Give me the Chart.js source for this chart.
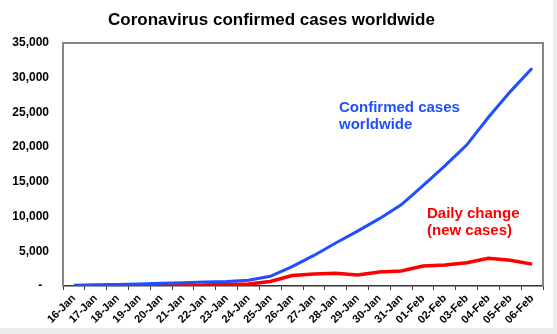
<!DOCTYPE html>
<html>
<head>
<meta charset="utf-8">
<script src="https://cdn.jsdelivr.net/npm/chart.js@4/dist/chart.umd.min.js"></script>
<style>
  html, body { margin: 0; padding: 0; background: #ffffff; }
  #wrap { width: 557px; height: 334px; position: relative; }
  canvas { display: block; }
</style>
</head>
<body>
<div id="wrap"><canvas id="c" width="557" height="334"></canvas></div>
<script>
// Daily dates on the category axis
const dates = [
  '16-Jan', '17-Jan', '18-Jan', '19-Jan', '20-Jan', '21-Jan', '22-Jan', '23-Jan',
  '24-Jan', '25-Jan', '26-Jan', '27-Jan', '28-Jan', '29-Jan', '30-Jan', '31-Jan',
  '01-Feb', '02-Feb', '03-Feb', '04-Feb', '05-Feb', '06-Feb'
];

// Cumulative confirmed cases worldwide
const confirmedCases = [
  100, 180, 230, 290, 380, 470, 560, 650,
  830, 1400, 2800, 4400, 6200, 7900, 9700, 11700,
  14450, 17300, 20300, 24300, 28000, 31350
];

// Day-over-day change (new cases)
const dailyChange = [
  null, 30, 60, 80, 100, 120, 140, 240,
  290, 650, 1500, 1730, 1820, 1600, 2000, 2150,
  2880, 3020, 3350, 4000, 3700, 3150
];

// Value axis ticks
const yTicks = [0, 5000, 10000, 15000, 20000, 25000, 30000, 35000];

const BLUE = '#1f4fff';
const RED = '#ff0000';
const FONT = '"Liberation Sans", Arial, sans-serif';

// Page backdrop, plot frame and in-chart series captions
const decor = {
  id: 'decor',
  beforeDraw(chart) {
    const ctx = chart.ctx;
    ctx.save();
    ctx.fillStyle = '#ececec';
    ctx.fillRect(0, 0, chart.width, chart.height);
    ctx.fillStyle = '#ffffff';
    ctx.fillRect(0, 0, 553, 328);
    ctx.restore();
  },
  afterDraw(chart) {
    const ctx = chart.ctx;
    const a = chart.chartArea;
    ctx.save();
    // frame: grey on left, top, right
    ctx.strokeStyle = '#868686';
    ctx.lineWidth = 2;
    ctx.beginPath();
    ctx.moveTo(a.left, a.bottom);
    ctx.lineTo(a.left, a.top);
    ctx.lineTo(a.right, a.top);
    ctx.lineTo(a.right, a.bottom);
    ctx.stroke();
    // captions
    ctx.font = 'bold 15px ' + FONT;
    ctx.textBaseline = 'middle';
    ctx.textAlign = 'left';
    ctx.fillStyle = BLUE;
    ctx.fillText('Confirmed cases', 339, 108);
    ctx.fillText('worldwide', 339, 125);
    ctx.fillStyle = RED;
    ctx.fillText('Daily change', 427, 214);
    ctx.fillText('(new cases)', 427, 231);
    ctx.restore();
  }
};

new Chart(document.getElementById('c'), {
  type: 'line',
  data: {
    labels: dates,
    datasets: [
      {
        label: 'Confirmed cases worldwide',
        data: confirmedCases,
        borderColor: BLUE,
        backgroundColor: BLUE,
        borderWidth: 3,
        pointRadius: 0,
        tension: 0,
        fill: false
      },
      {
        label: 'Daily change (new cases)',
        data: dailyChange,
        borderColor: RED,
        backgroundColor: RED,
        borderWidth: 3.5,
        pointRadius: 0,
        tension: 0,
        fill: false
      }
    ]
  },
  options: {
    responsive: false,
    animation: false,
    devicePixelRatio: 1,
    layout: { padding: { top: 0, right: 14, bottom: 0, left: 0 } },
    plugins: {
      legend: { display: false },
      tooltip: { enabled: false },
      title: {
        display: true,
        text: 'Coronavirus confirmed cases worldwide',
        color: '#000000',
        font: { family: FONT, size: 17, weight: 'bold', lineHeight: 1.2 },
        padding: { top: 10, bottom: 12.6 }
      }
    },
    scales: {
      x: {
        type: 'category',
        offset: true,
        afterFit(s) { s.height = 48; },
        grid: {
          display: true,
          offset: true,
          drawOnChartArea: false,
          drawTicks: true,
          tickLength: 4,
          tickColor: '#333333',
          tickWidth: 1
        },
        border: { display: true, color: '#333333', width: 1.5 },
        ticks: {
          autoSkip: false,
          maxRotation: 45,
          minRotation: 45,
          padding: 2,
          color: '#000000',
          font: { family: FONT, size: 11, weight: 'bold' }
        }
      },
      y: {
        min: 0,
        max: 35000,
        afterFit(s) { s.width = 63; },
        afterBuildTicks(s) { s.ticks = yTicks.map(v => ({ value: v })); },
        grid: { display: false, drawTicks: false },
        border: { display: false },
        ticks: {
          padding: 14,
          color: '#000000',
          font: { family: FONT, size: 12, weight: 'bold' },
          callback: v => (v === 0 ? '-  ' : v.toLocaleString('en-US'))
        }
      }
    }
  },
  plugins: [decor]
});
</script>
</body>
</html>
